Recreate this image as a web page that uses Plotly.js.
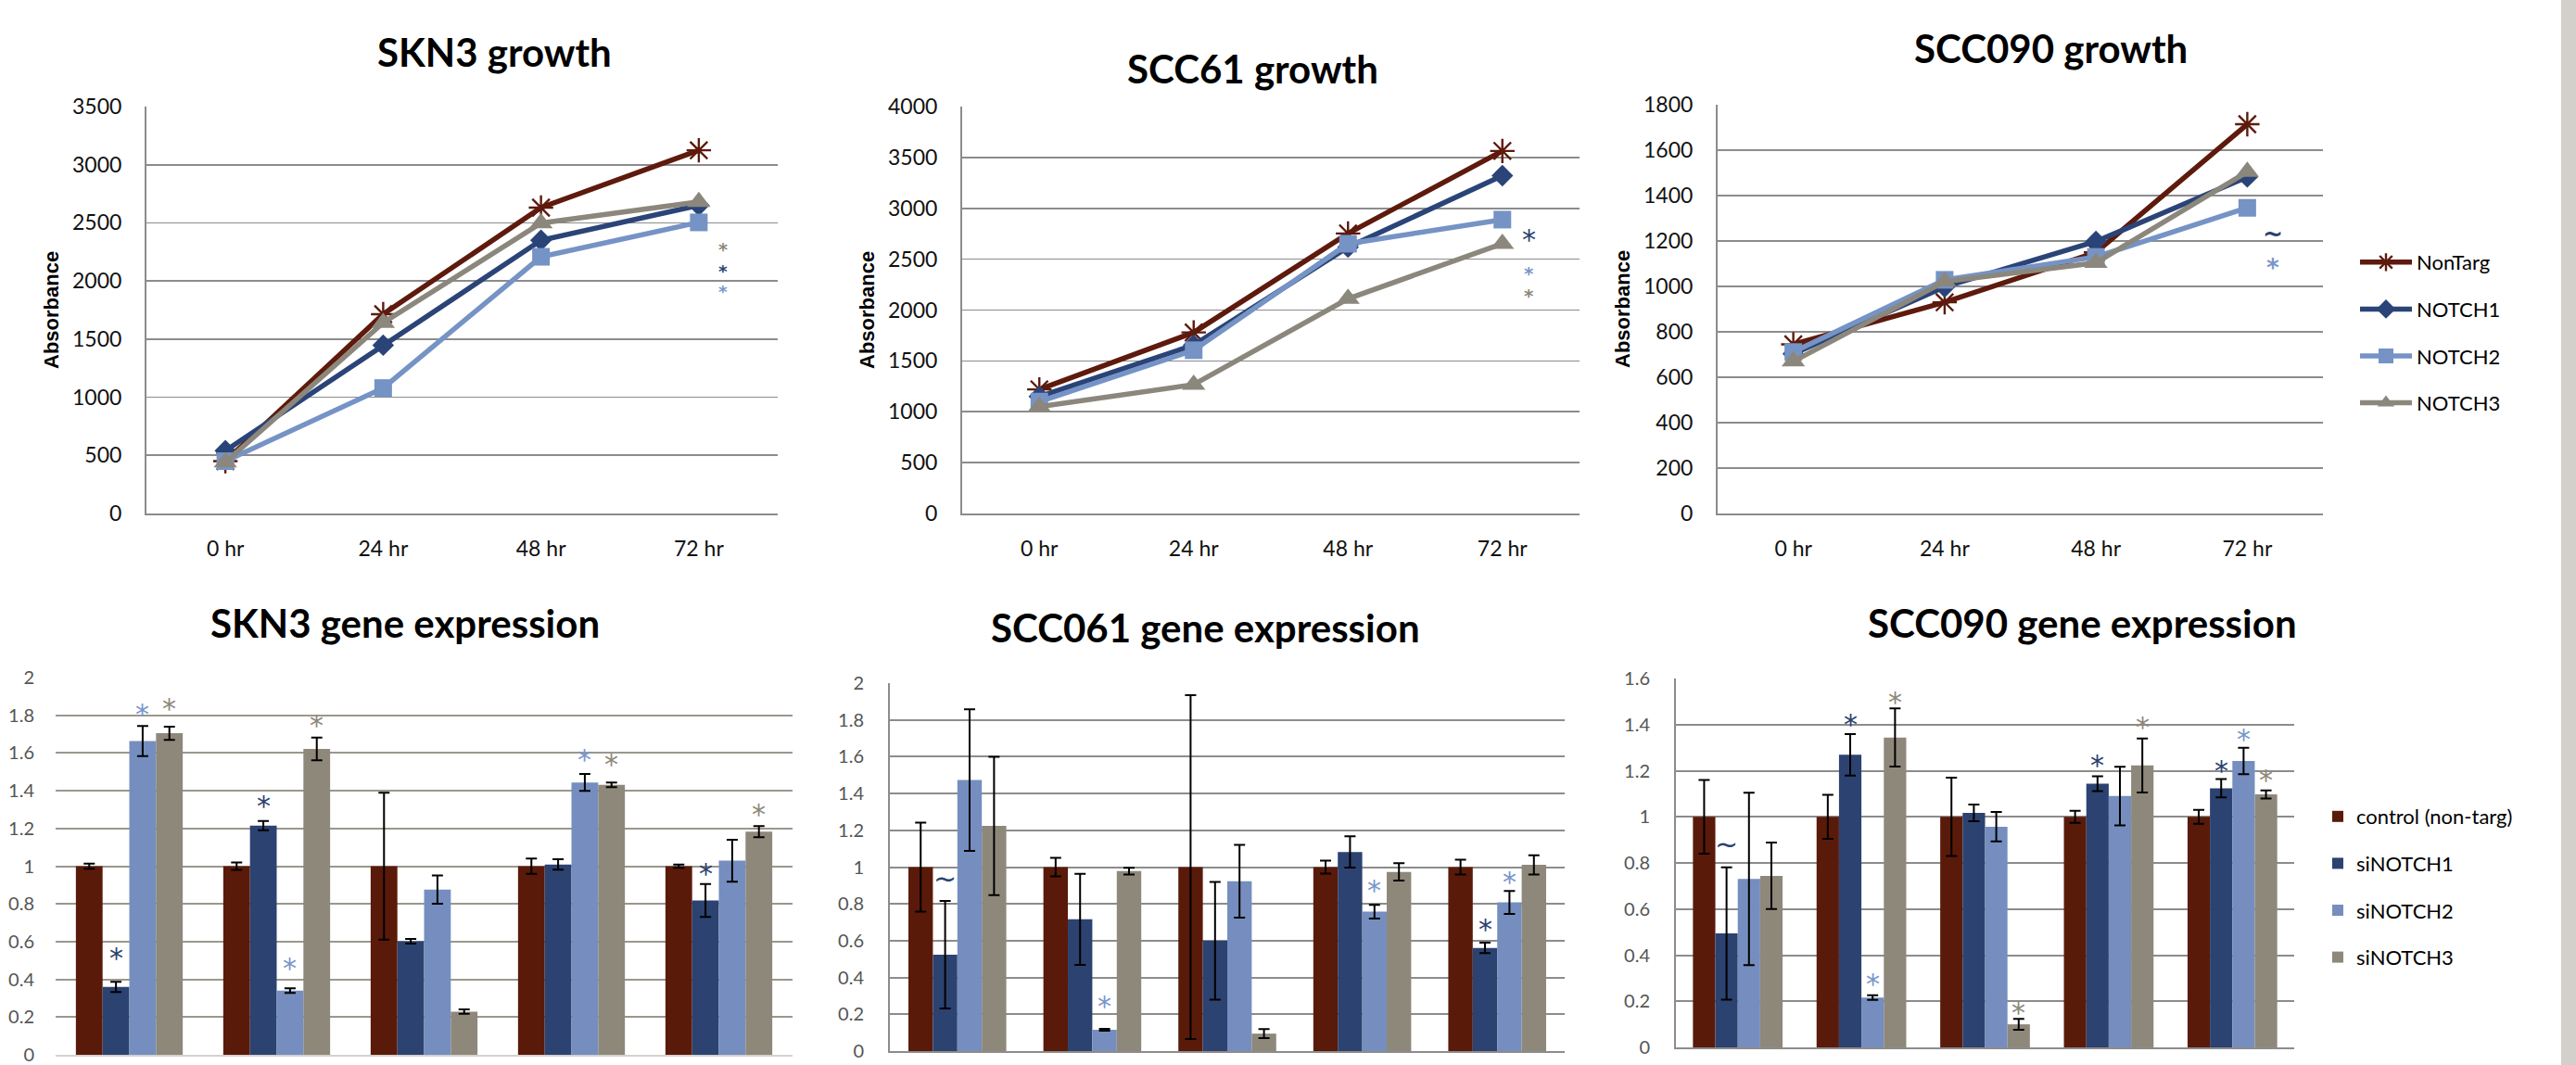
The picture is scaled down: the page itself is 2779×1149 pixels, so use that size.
<!DOCTYPE html>
<html>
<head>
<meta charset="utf-8">
<script src="https://cdn.plot.ly/plotly-3.0.1.min.js"></script>
<style>html,body{margin:0;padding:0;background:#fff;}#chart{width:2779px;height:1149px;}</style>
</head>
<body>
<div id="chart"></div>
<script>
// ---------------- DATA ----------------
const hours = ['0 hr', '24 hr', '48 hr', '72 hr'];
const growthSeries = ['NonTarg', 'NOTCH1', 'NOTCH2', 'NOTCH3'];

const skn3Growth = [
  [450, 1714, 2631, 3124],   // NonTarg
  [540, 1448, 2350, 2651],   // NOTCH1
  [450, 1079, 2208, 2504],   // NOTCH2
  [440, 1640, 2498, 2681]    // NOTCH3
];
const scc61Growth = [
  [1220, 1780, 2753, 3564],
  [1150, 1655, 2618, 3321],
  [1100, 1605, 2652, 2889],
  [1050, 1267, 2111, 2652]
];
const scc090Growth = [
  [745, 930, 1150, 1714],
  [703, 998, 1198, 1482],
  [711, 1029, 1130, 1346],
  [670, 1021, 1104, 1505]
];
// significance marks for growth charts: [x position (category index), y value, series index, symbol]
const skn3GrowthMarks = [[3.155, 2297, 3, '*'], [3.155, 2113, 1, '*'], [3.155, 1936, 2, '*']];
const scc61GrowthMarks = [[3.17, 2743, 1, '*'], [3.17, 2389, 2, '*'], [3.17, 2172, 3, '*']];
const scc090GrowthMarks = [[3.17, 1233, 1, '~'], [3.17, 1104, 2, '*']];

const exprSeries = ['control (non-targ)', 'siNOTCH1', 'siNOTCH2', 'siNOTCH3'];
const exprGroups = [0, 1, 2, 3, 4];

const skn3Means = [
  [1, 1, 1, 1, 1],
  [0.36, 1.215, 0.602, 1.009, 0.818],
  [1.663, 0.34, 0.876, 1.444, 1.029],
  [1.705, 1.622, 0.229, 1.431, 1.183]
];
const skn3Err = [
  [0.014, 0.02, 0.39, 0.04, 0.008],
  [0.027, 0.024, 0.012, 0.028, 0.087],
  [0.08, 0.012, 0.075, 0.045, 0.111],
  [0.035, 0.06, 0.012, 0.012, 0.029]
];
const scc061Means = [
  [1, 1, 1, 1, 1],
  [0.524, 0.716, 0.600, 1.082, 0.561],
  [1.473, 0.116, 0.923, 0.758, 0.808],
  [1.224, 0.978, 0.095, 0.974, 1.012]
];
const scc061Err = [
  [0.242, 0.05, 0.935, 0.035, 0.04],
  [0.292, 0.247, 0.32, 0.085, 0.028],
  [0.385, 0.005, 0.198, 0.037, 0.062],
  [0.376, 0.018, 0.025, 0.047, 0.052]
];
const scc090Means = [
  [1, 1, 1, 1, 1],
  [0.494, 1.269, 1.017, 1.144, 1.124],
  [0.731, 0.216, 0.957, 1.09, 1.242],
  [0.744, 1.344, 0.1, 1.223, 1.097]
];
const scc090Err = [
  [0.16, 0.095, 0.17, 0.026, 0.03],
  [0.287, 0.09, 0.036, 0.032, 0.04],
  [0.374, 0.01, 0.064, 0.127, 0.057],
  [0.144, 0.126, 0.024, 0.117, 0.018]
];
// significance marks for expression charts: [group, series index, y value, symbol]
const skn3Marks = [[0,1,0.544,'*'],[0,2,1.837,'*'],[0,3,1.864,'*'],[1,1,1.349,'*'],[1,2,0.49,'*'],[1,3,1.776,'*'],[3,2,1.593,'*'],[3,3,1.568,'*'],[4,1,0.988,'*'],[4,3,1.303,'*']];
const scc061Marks = [[0,1,0.94,'~'],[1,2,0.274,'*'],[3,2,0.903,'*'],[4,1,0.694,'*'],[4,2,0.949,'*']];
const scc090Marks = [[0,1,0.884,'~'],[1,1,1.426,'*'],[1,2,0.301,'*'],[1,3,1.521,'*'],[2,3,0.175,'*'],[3,1,1.25,'*'],[3,3,1.413,'*'],[4,1,1.223,'*'],[4,2,1.359,'*'],[4,3,1.182,'*']];

const growthTitles = ['SKN3 growth', 'SCC61 growth', 'SCC090 growth'];
const exprTitles = ['SKN3 gene expression', 'SCC061 gene expression', 'SCC090 gene expression'];
const growthMax = [3500, 4000, 1800];
const growthDtick = [500, 500, 200];

// ---------------- STYLE ----------------
const W = 2779, H = 1149;
const lineColors = ['#5E1A0C', '#2B4478', '#7593C5', '#8C877C'];
const lineSymbols = ['asterisk-open', 'diamond', 'square', 'triangle-up'];
const lineSizes = [22, 18, 19, 22];
const barColors = ['#5A1A0A', '#2C4270', '#758EBF', '#8E887B'];
const markColors = ['#5A1A0A', '#2C4270', '#7A96CB', '#8E887B'];
const barGap = 0.275;
const barW = (1 - barGap) / 4;
const markSize = 30;
// plot boxes in pixels: [left, right, top, bottom]
const growthBoxes = [[158, 839, 115, 554], [1038, 1704, 115, 554], [1853, 2506, 113, 554]];

const px = v => v / W;
const py = v => 1 - v / H;

const traces = [];
const annotations = [];

function markAnn(xa, ya, x, y, sym, col, fs, bold) {
  return {
    xref: xa, yref: ya, x: x, y: y, text: sym, showarrow: false,
    font: { family: 'DejaVu Sans', size: fs, color: col, weight: bold ? 700 : 400 },
    xanchor: 'center', yanchor: 'middle', yshift: sym === '*' ? -6 * fs / 30 : 0
  };
}

// growth charts
const growthData = [skn3Growth, scc61Growth, scc090Growth];
const growthMarks = [skn3GrowthMarks, scc61GrowthMarks, scc090GrowthMarks];
growthData.forEach((data, c) => {
  const xa = 'x' + (c === 0 ? '' : c + 1);
  const ya = 'y' + (c === 0 ? '' : c + 1);
  data.forEach((vals, s) => {
    const isStar = lineSymbols[s] === 'asterisk-open';
    traces.push({
      type: 'scatter', mode: 'lines+markers',
      x: hours, y: vals, xaxis: xa, yaxis: ya,
      name: growthSeries[s], legend: 'legend', legendgroup: 'g' + s,
      showlegend: c === 2,
      line: { color: lineColors[s], width: 5.5 },
      marker: {
        symbol: lineSymbols[s], size: lineSizes[s], color: lineColors[s],
        line: { color: lineColors[s], width: isStar ? 2.4 : 0 }
      }
    });
  });
  // stacked significance marks: shrink the font where they sit close together
  const box = growthBoxes[c];
  const ppu = (box[3] - box[2]) / growthMax[c];
  const sorted = growthMarks[c].slice().sort((a, b) => b[1] - a[1]);
  sorted.forEach((m, i) => {
    let gap = Infinity;
    if (i > 0) gap = Math.min(gap, (sorted[i - 1][1] - m[1]) * ppu);
    if (i < sorted.length - 1) gap = Math.min(gap, (m[1] - sorted[i + 1][1]) * ppu);
    const fs = Math.min(markSize, gap / 1.2);
    annotations.push(markAnn(xa, ya, m[0], m[1], m[3], markColors[m[2]], fs, fs < markSize));
  });
});

// expression charts
const exprMeans = [skn3Means, scc061Means, scc090Means];
const exprErrs = [skn3Err, scc061Err, scc090Err];
const exprMarks = [skn3Marks, scc061Marks, scc090Marks];
exprMeans.forEach((means, c) => {
  const n = c + 4;
  const xa = 'x' + n, ya = 'y' + n;
  means.forEach((vals, s) => {
    traces.push({
      type: 'bar', x: exprGroups, y: vals, xaxis: xa, yaxis: ya,
      name: exprSeries[s], legend: 'legend2', legendgroup: 'b' + s,
      showlegend: c === 2,
      marker: { color: barColors[s], line: { width: 0 } },
      error_y: { type: 'data', array: exprErrs[c][s], visible: true, color: '#000000', thickness: 2, width: 6 }
    });
  });
  exprMarks[c].forEach(m => {
    annotations.push(markAnn(xa, ya, m[0] + (m[1] - 1.5) * barW, m[2], m[3], markColors[m[1]], markSize, false));
  });
});

// titles
const titleFont = { family: 'Lato', size: 42, color: '#000000', weight: 700 };
const growthTitlePos = [[533, 56], [1351, 74], [2212, 52]];
const exprTitlePos = [[437, 672], [1300, 677], [2246, 672]];
growthTitles.forEach((t, i) => annotations.push({
  xref: 'paper', yref: 'paper', x: px(growthTitlePos[i][0]), y: py(growthTitlePos[i][1]),
  text: '<b>' + t + '</b>', showarrow: false, xanchor: 'center', yanchor: 'middle', font: titleFont
}));
exprTitles.forEach((t, i) => annotations.push({
  xref: 'paper', yref: 'paper', x: px(exprTitlePos[i][0]), y: py(exprTitlePos[i][1]),
  text: '<b>' + t + '</b>', showarrow: false, xanchor: 'center', yanchor: 'middle', font: titleFont
}));
// y-axis titles
const absPos = [[56, 335], [936, 335], [1750, 333]];
absPos.forEach(p => annotations.push({
  xref: 'paper', yref: 'paper', x: px(p[0]), y: py(p[1]), text: '<b>Absorbance</b>',
  showarrow: false, textangle: -90, xanchor: 'center', yanchor: 'middle',
  font: { family: 'Liberation Sans', size: 22, color: '#000000' }
}));

// axes
const topTick = { family: 'Lato', size: 23, color: '#111111' };
const botTick = { family: 'Lato', size: 20, color: '#555555' };
const gridC = '#8C8C8C';
function topX(b) {
  return { domain: [px(b[0]), px(b[1])], type: 'category', range: [-0.5, 3.5], showgrid: false,
    showline: true, linecolor: gridC, linewidth: 2, ticks: '', tickfont: topTick,
    ticklabelstandoff: 16, fixedrange: true };
}
function topY(b, max, dt) {
  return { domain: [py(b[3]), py(b[2])], range: [0, max], dtick: dt, showgrid: true, gridcolor: gridC,
    gridwidth: 1.6, showline: true, linecolor: gridC, linewidth: 2, zeroline: false, ticks: '',
    tickfont: topTick, ticklabelstandoff: 20, fixedrange: true };
}
function botX(l, r, lc) {
  return { domain: [px(l), px(r)], range: [-0.5, 4.5], showgrid: false, showticklabels: false,
    showline: true, linecolor: lc, linewidth: 2, ticks: '', zeroline: false, fixedrange: true };
}
function botY(t, b, max, gc, showLine) {
  return { domain: [py(b), py(t)], range: [0, max], dtick: 0.2, showgrid: true, gridcolor: gc,
    gridwidth: 2, showline: showLine, linecolor: gridC, linewidth: 2, zeroline: false, ticks: '',
    tickfont: botTick, ticklabelstandoff: 22, fixedrange: true };
}

const layout = {
  width: W, height: H, autosize: false,
  margin: { l: 0, r: 0, t: 0, b: 0, pad: 0 },
  paper_bgcolor: '#ffffff', plot_bgcolor: 'rgba(0,0,0,0)',
  showlegend: true, hovermode: false,
  barmode: 'group', bargap: barGap, bargroupgap: 0,
  xaxis: Object.assign(topX(growthBoxes[0]), { anchor: 'y' }),
  yaxis: Object.assign(topY(growthBoxes[0], growthMax[0], growthDtick[0]), { anchor: 'x' }),
  xaxis2: Object.assign(topX(growthBoxes[1]), { anchor: 'y2' }),
  yaxis2: Object.assign(topY(growthBoxes[1], growthMax[1], growthDtick[1]), { anchor: 'x2' }),
  xaxis3: Object.assign(topX(growthBoxes[2]), { anchor: 'y3' }),
  yaxis3: Object.assign(topY(growthBoxes[2], growthMax[2], growthDtick[2]), { anchor: 'x3' }),
  xaxis4: Object.assign(botX(60, 855, '#D4D2CE'), { anchor: 'y4' }),
  yaxis4: Object.assign(botY(731, 1138, 2, '#9C978E', false), { anchor: 'x4' }),
  xaxis5: Object.assign(botX(960, 1688, gridC), { anchor: 'y5' }),
  yaxis5: Object.assign(botY(737, 1134, 2, gridC, true), { anchor: 'x5' }),
  xaxis6: Object.assign(botX(1808, 2475, gridC), { anchor: 'y6' }),
  yaxis6: Object.assign(botY(732, 1130, 1.6, gridC, true), { anchor: 'x6' }),
  legend: {
    x: px(2541), y: py(262), xanchor: 'left', yanchor: 'top',
    font: { family: 'Lato', size: 22, color: '#000000' },
    itemwidth: 56, traceorder: 'grouped', tracegroupgap: 19,
    bgcolor: 'rgba(0,0,0,0)', borderwidth: 0
  },
  legend2: {
    x: px(2502), y: py(860), xanchor: 'left', yanchor: 'top',
    font: { family: 'Lato', size: 22, color: '#000000' },
    itemwidth: 30, traceorder: 'grouped', tracegroupgap: 19,
    bgcolor: 'rgba(0,0,0,0)', borderwidth: 0
  },
  shapes: [{
    type: 'rect', xref: 'paper', yref: 'paper', x0: px(2763), x1: 1, y0: 0, y1: 1,
    fillcolor: '#D3CFCA', line: { width: 0 }, layer: 'below'
  }],
  annotations: annotations
};

Plotly.newPlot('chart', traces, layout, { staticPlot: true, displayModeBar: false });
</script>
</body>
</html>
